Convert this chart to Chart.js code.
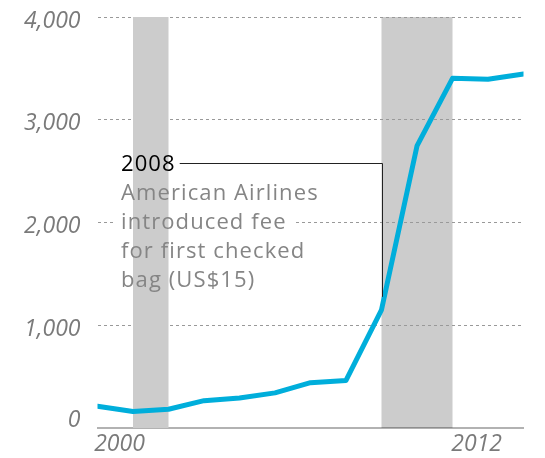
<!DOCTYPE html>
<html>
<head>
<meta charset="utf-8">
<script src="https://cdn.jsdelivr.net/npm/chart.js@4"></script>
<style>
  html, body { margin: 0; padding: 0; background: #ffffff; }
  #wrap { width: 545px; height: 458px; }
</style>
</head>
<body>
<div id="wrap"><canvas id="c" width="545" height="458"></canvas></div>
<script>
// ---- data ----
const years = [2000, 2001, 2002, 2003, 2004, 2005, 2006, 2007, 2008, 2009, 2010, 2011, 2012];
const bagFees = [212, 160, 183, 266, 292, 342, 441, 463, 1150, 2745, 3403, 3394, 3445];
const recessions = [[2001, 2002], [2008, 2010]];
const yTickValues = [0, 1000, 2000, 3000, 4000];
const yTickLabels = ['0', '1,000', '2,000', '3,000', '4,000'];
const xTickLabels = ['2000', '2012'];
const xTickValues = [2000.62, 2010.68];
const noteYear = 2008;
const noteLevel = 2580;
const noteTitle = '2008';
const noteLines = ['American Airlines', 'introduced fee', 'for first checked', 'bag (US$15)'];

const FONT = '"Open Sans", Lato, sans-serif';
const NOTE_FONT = '22px ' + FONT;

function drawBand(chart, band) {
  const { ctx } = chart;
  const xs = chart.scales.x, ys = chart.scales.y;
  const x0 = xs.getPixelForValue(band[0]);
  const x1 = xs.getPixelForValue(band[1]);
  const yt = ys.getPixelForValue(ys.max);
  const yb = ys.getPixelForValue(ys.min);
  ctx.save();
  ctx.fillStyle = '#cccccc';
  ctx.fillRect(x0, yt, x1 - x0, yb - yt);
  ctx.restore();
}

function noteGeometry(chart) {
  const xs = chart.scales.x, ys = chart.scales.y;
  const lineY = ys.getPixelForValue(noteLevel);
  const left = xs.getPixelForValue(2000) + 23.5;
  return { lineY, left, lh: 29 };
}

function zeroPadding(s) {
  s.paddingTop = 0; s.paddingBottom = 0; s.paddingLeft = 0; s.paddingRight = 0;
}

function setNoteFont(ctx) {
  ctx.font = NOTE_FONT;
  if ('letterSpacing' in ctx) ctx.letterSpacing = '1.1px';
}

const overlay = {
  id: 'overlay',
  beforeDraw(chart) {
    drawBand(chart, recessions[1]);
  },
  beforeDatasetsDraw(chart) {
    const { ctx } = chart;
    const g = noteGeometry(chart);
    const titleBase = g.lineY + 8.5;
    ctx.save();
    setNoteFont(ctx);
    ctx.fillStyle = '#ffffff';
    noteLines.forEach((t, i) => {
      const w = ctx.measureText(t).width;
      const by = titleBase + (i + 1) * g.lh;
      ctx.fillRect(g.left - 6, by - 17, w + 15, 20);
    });
    ctx.restore();
    drawBand(chart, recessions[0]);
  },
  afterDatasetsDraw(chart) {
    const { ctx } = chart;
    const xs = chart.scales.x, ys = chart.scales.y;
    const g = noteGeometry(chart);
    const idx = years.indexOf(noteYear);
    const px = xs.getPixelForValue(noteYear);
    const py = ys.getPixelForValue(bagFees[idx]);
    ctx.save();
    setNoteFont(ctx);
    ctx.textBaseline = 'alphabetic';
    ctx.textAlign = 'left';
    ctx.fillStyle = '#000000';
    const titleBase = g.lineY + 8.5;
    ctx.fillText(noteTitle, g.left, titleBase);
    const tw = ctx.measureText(noteTitle).width;
    ctx.strokeStyle = '#222222';
    ctx.lineWidth = 1;
    ctx.beginPath();
    ctx.moveTo(g.left + tw + 4, Math.round(g.lineY) + 0.5);
    ctx.lineTo(Math.round(px) + 0.5, Math.round(g.lineY) + 0.5);
    ctx.lineTo(Math.round(px) + 0.5, py - 13);
    ctx.stroke();
    ctx.fillStyle = '#858585';
    noteLines.forEach((t, i) => {
      ctx.fillText(t, g.left, titleBase + (i + 1) * g.lh);
    });
    ctx.restore();
  }
};

new Chart(document.getElementById('c'), {
  type: 'line',
  data: {
    labels: years,
    datasets: [{
      data: years.map((y, i) => ({ x: y, y: bagFees[i] })),
      borderColor: '#00aedb',
      borderWidth: 5,
      borderCapStyle: 'round',
      borderJoinStyle: 'round',
      pointRadius: 0,
      tension: 0,
      fill: false
    }]
  },
  options: {
    responsive: false,
    animation: false,
    devicePixelRatio: 1,
    layout: { padding: { top: 17, right: 21.5, bottom: 0, left: 0 } },
    plugins: { legend: { display: false }, tooltip: { enabled: false } },
    scales: {
      x: {
        type: 'linear',
        min: years[0],
        max: years[years.length - 1],
        afterBuildTicks: (s) => { s.ticks = xTickValues.map(v => ({ value: v })); },
        afterFit: (s) => { s.height = 30; zeroPadding(s); },
        grid: { display: false, drawTicks: false },
        border: { display: true, color: 'rgba(0,0,0,0.3)', width: 2 },
        ticks: {
          autoSkip: false,
          maxRotation: 0,
          padding: 3,
          color: '#7a7a7a',
          font: { family: FONT, size: 23, style: 'italic' },
          callback: (v, i) => xTickLabels[i]
        }
      },
      y: {
        min: 0,
        max: 4000,
        afterBuildTicks: (s) => { s.ticks = yTickValues.map(v => ({ value: v })); },
        afterFit: (s) => { s.width = 97.5; zeroPadding(s); },
        grid: {
          drawTicks: false,
          color: (ctx) => (ctx.tick && ctx.tick.value === 0) ? 'rgba(0,0,0,0)' : '#999999',
          lineWidth: 1
        },
        border: { display: false, dash: [3, 3] },
        ticks: {
          autoSkip: false,
          padding: 17,
          labelOffset: 4,
          color: '#7a7a7a',
          font: { family: FONT, size: 23, style: 'italic', lineHeight: 1 },
          callback: (v, i) => (v === 0 ? [yTickLabels[i], ''] : yTickLabels[i])
        }
      }
    }
  },
  plugins: [overlay]
});
</script>
</body>
</html>
